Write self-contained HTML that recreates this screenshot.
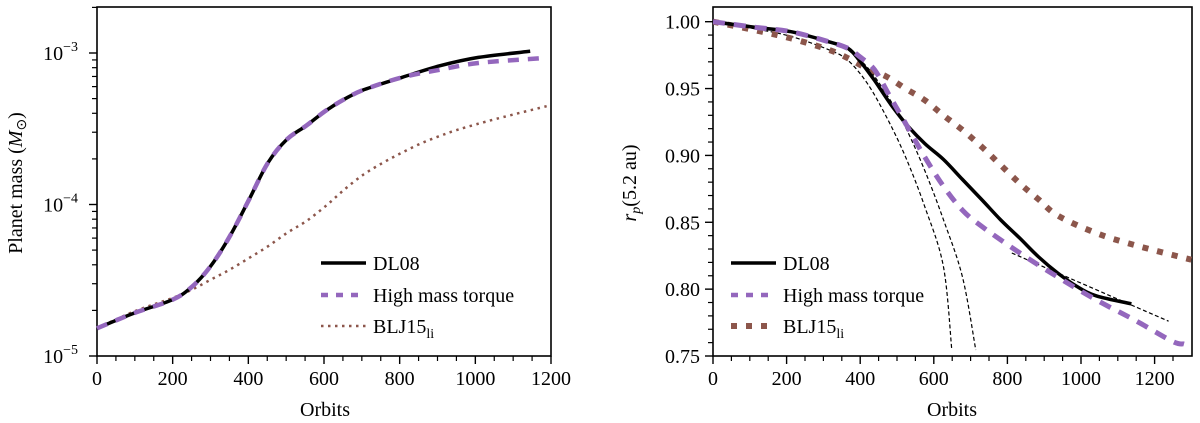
<!DOCTYPE html>
<html><head><meta charset="utf-8"><style>
body{margin:0;background:#fff}
svg{display:block;font-family:"Liberation Serif",serif}
</style></head><body>
<svg id="c" width="1200" height="423"></svg>
<script>
const orbitTicks=[0,200,400,600,800,1000,1200];
const massTickLabels=["10","10","10"];
const massTickExp=[-5,-4,-3];
const rTicks=[0.75,0.80,0.85,0.90,0.95,1.00];
// left panel data (orbits, log10 mass)
const mOrb=[0,98,199,250,300,351,402,452,502,553,604,654,705,806,907,1008,1145];
const mDL08=[-4.817,-4.717,-4.629,-4.545,-4.408,-4.21,-3.967,-3.724,-3.57,-3.48,-3.382,-3.305,-3.243,-3.161,-3.084,-3.029,-2.989];
const hOrb=[0,98,199,250,300,351,402,452,502,553,604,654,705,806,907,1008,1170];
const mHigh=[-4.817,-4.717,-4.629,-4.545,-4.408,-4.21,-3.967,-3.724,-3.57,-3.48,-3.382,-3.305,-3.243,-3.161,-3.11,-3.066,-3.035];
const bOrb=[0,98,199,250,300,351,402,452,502,553,604,654,705,756,806,857,907,958,1058,1200];
const mBLJ=[-4.817,-4.706,-4.618,-4.563,-4.497,-4.43,-4.353,-4.276,-4.188,-4.11,-4.011,-3.901,-3.801,-3.724,-3.658,-3.596,-3.547,-3.503,-3.433,-3.344];
// right panel data (orbits, r_p)
const rOrbD=[0,108,212,315,367,398,439,481,523,575,626,678,730,781,834,885,937,989,1041,1137];
const rDL08=[1.0,0.996,0.9925,0.985,0.980,0.971,0.956,0.939,0.924,0.909,0.897,0.882,0.867,0.852,0.838,0.824,0.812,0.802,0.795,0.789];
const rOrbH=[0,108,212,315,367,398,439,481,523,575,626,678,730,834,937,1041,1145,1248,1280];
const rHigh=[1.0,0.996,0.9925,0.985,0.980,0.974,0.964,0.944,0.924,0.899,0.877,0.859,0.847,0.827,0.809,0.792,0.777,0.761,0.759];
const rOrbB=[0,108,212,315,367,419,471,523,575,626,678,730,781,834,885,937,1041,1145,1300];
const rBLJ=[1.0,0.994,0.9875,0.979,0.9726,0.965,0.959,0.950,0.9414,0.930,0.919,0.9065,0.893,0.879,0.867,0.855,0.842,0.833,0.822];
const fAOrb=[0,108,212,315,367,419,471,523,575,626,649];
const fA=[1.0,0.995,0.989,0.979,0.971,0.954,0.929,0.899,0.862,0.817,0.7545];
const fBOrb=[367,419,471,523,575,626,678,714];
const fB=[0.979,0.966,0.946,0.921,0.889,0.852,0.809,0.7545];
const fCOrb=[812,1238];
const fC=[0.827,0.776];

const NS="http://www.w3.org/2000/svg";
const svg=document.getElementById('c');
function el(t,a,p){const e=document.createElementNS(NS,t);for(const k in a)e.setAttribute(k,a[k]);(p||svg).appendChild(e);return e;}
const Lx=o=>97+o*(551-97)/1200;
const Ly=v=>356-(v+5)*151.5;
const Rx=o=>713+o*(1154.6-713)/1200;
const Ry=v=>356-(v-0.75)*(356-21.7)/0.25;
function smooth(xs,ys,fx,fy){
  const P=xs.map((x,i)=>[fx(x),fy(ys[i])]);
  let d="M"+P[0][0].toFixed(1)+","+P[0][1].toFixed(1);
  for(let i=0;i<P.length-1;i++){
    const p0=P[i-1]||P[i],p1=P[i],p2=P[i+1],p3=P[i+2]||P[i+1];
    const c1=[p1[0]+(p2[0]-p0[0])/6,p1[1]+(p2[1]-p0[1])/6];
    const c2=[p2[0]-(p3[0]-p1[0])/6,p2[1]-(p3[1]-p1[1])/6];
    d+=" C"+c1.map(v=>v.toFixed(1)).join(",")+" "+c2.map(v=>v.toFixed(1)).join(",")+" "+p2[0].toFixed(1)+","+p2[1].toFixed(1);
  }
  return d;
}

// left panel
const gL=el('g',{});

el('rect',{x:97,y:7,width:454,height:349,fill:'none',stroke:'#000','stroke-width':1.6},gL);
orbitTicks.forEach(t=>{
  el('line',{x1:Lx(t),x2:Lx(t),y1:356,y2:364,stroke:'#000','stroke-width':1.4},gL);
  const tx=el('text',{x:Lx(t),y:385,'font-size':20,'text-anchor':'middle'},gL);tx.textContent=t;
  
});
for(let t=50;t<1200;t+=50){if(t%200)el('line',{x1:Lx(t),x2:Lx(t),y1:356,y2:361,stroke:'#000','stroke-width':1.2},gL);}
massTickExp.forEach((e,i)=>{
  el('line',{x1:89,x2:97,y1:Ly(e),y2:Ly(e),stroke:'#000','stroke-width':1.4},gL);
  const tx=el('text',{x:78,y:Ly(e)+7,'font-size':20,'text-anchor':'end'},gL);
  
  tx.textContent=massTickLabels[i];
  const s=el('tspan',{dy:-9,'font-size':14},tx);s.textContent='\u2212'+Math.abs(e);
  if(e<-3){for(let m=2;m<=9;m++){const y=Ly(e+Math.log10(m));el('line',{x1:92,x2:97,y1:y,y2:y,stroke:'#000','stroke-width':1.2},gL);}}
});
[2,3,4,5,6,7,8,9].forEach(m=>{const v=-3+Math.log10(m);if(Ly(v)>7)el('line',{x1:92,x2:97,y1:Ly(v),y2:Ly(v),stroke:'#000','stroke-width':1.2},gL);});
let t=el('text',{x:325,y:416,'font-size':20,'text-anchor':'middle'},gL);t.textContent='Orbits';

t=el('text',{x:0,y:0,'font-size':20,'text-anchor':'middle',transform:'translate(22,183) rotate(-90)'},gL);

t.innerHTML='Planet mass (<tspan font-style="italic">M</tspan><tspan font-size="14" dy="4">\u2299</tspan><tspan dy="-4">)</tspan>';
let p=el('path',{d:smooth(bOrb,mBLJ,Lx,Ly),fill:'none',stroke:'#8c564b','stroke-width':2.5,'stroke-dasharray':'2.5 4.5'},gL);

p=el('path',{d:smooth(mOrb,mDL08,Lx,Ly),fill:'none',stroke:'#000','stroke-width':3.5,'stroke-linejoin':'round'},gL);

p=el('path',{d:smooth(hOrb,mHigh,Lx,Ly),fill:'none',stroke:'#9467bd','stroke-width':4.5,'stroke-dasharray':'11 9'},gL);

function legend(g,x,ys,bljW,bljDash){
  const items=[['DL08','#000',3.5,'none'],['High mass torque','#9467bd',4.5,'7 8'],['BLJ15','#8c564b',bljW,bljDash]];
  items.forEach((it,i)=>{
    const y=ys[i];
    const l=el('line',{x1:x,x2:x+45,y1:y,y2:y,stroke:it[1],'stroke-width':it[2],'stroke-dasharray':it[3]},g);
    
    const tx=el('text',{x:x+52,y:y+7,'font-size':20},g);
    
    tx.textContent=it[0];
    if(i==2){const s=el('tspan',{dy:5,'font-size':14},tx);s.textContent='li';}
  });
}
legend(gL,321,[263,295,326],2.5,'2.5 4.5');

// right panel
const gR=el('g',{});

el('rect',{x:713,y:7,width:479,height:349,fill:'none',stroke:'#000','stroke-width':1.6},gR);
orbitTicks.forEach(t=>{
  el('line',{x1:Rx(t),x2:Rx(t),y1:356,y2:364,stroke:'#000','stroke-width':1.4},gR);
  const tx=el('text',{x:Rx(t),y:385,'font-size':20,'text-anchor':'middle'},gR);tx.textContent=t;
  
});
for(let t=50;t<1300;t+=50){if(t%200)el('line',{x1:Rx(t),x2:Rx(t),y1:356,y2:361,stroke:'#000','stroke-width':1.2},gR);}
rTicks.forEach(v=>{
  el('line',{x1:705,x2:713,y1:Ry(v),y2:Ry(v),stroke:'#000','stroke-width':1.4},gR);
  const tx=el('text',{x:700,y:Ry(v)+7,'font-size':20,'text-anchor':'end'},gR);tx.textContent=v.toFixed(2);
  
});
for(let v=76;v<100;v++){if(v%5)el('line',{x1:708,x2:713,y1:Ry(v/100),y2:Ry(v/100),stroke:'#000','stroke-width':1.2},gR);}
t=el('text',{x:952,y:416,'font-size':20,'text-anchor':'middle'},gR);t.textContent='Orbits';

t=el('text',{x:0,y:0,'font-size':20,'text-anchor':'middle',transform:'translate(636,183) rotate(-90)'},gR);

t.innerHTML='<tspan font-style="italic">r</tspan><tspan font-style="italic" font-size="14" dy="4">p</tspan><tspan dy="-4">(5.2 au)</tspan>';
const clip=el('clipPath',{id:'rc'});el('rect',{x:713,y:7,width:479,height:349},clip);
const gD=el('g',{'clip-path':'url(#rc)'},gR);
[[fAOrb,fA,'fit-a'],[fBOrb,fB,'fit-b'],[fCOrb,fC,'fit-c']].forEach(f=>{
  const q=el('path',{d:smooth(f[0],f[1],Rx,Ry),fill:'none',stroke:'#000','stroke-width':1.2,'stroke-dasharray':'4 2.5'},gD);
  
});
p=el('path',{d:smooth(rOrbB,rBLJ,Rx,Ry),fill:'none',stroke:'#8c564b','stroke-width':6,'stroke-dasharray':'6 9'},gD);

p=el('path',{d:smooth(rOrbD,rDL08,Rx,Ry),fill:'none',stroke:'#000','stroke-width':3.5,'stroke-linejoin':'round'},gD);

p=el('path',{d:smooth(rOrbH,rHigh,Rx,Ry),fill:'none',stroke:'#9467bd','stroke-width':5,'stroke-dasharray':'12 9'},gD);

legend(gR,731,[263,295,326],6,'6 9');
</script>
</body></html>
